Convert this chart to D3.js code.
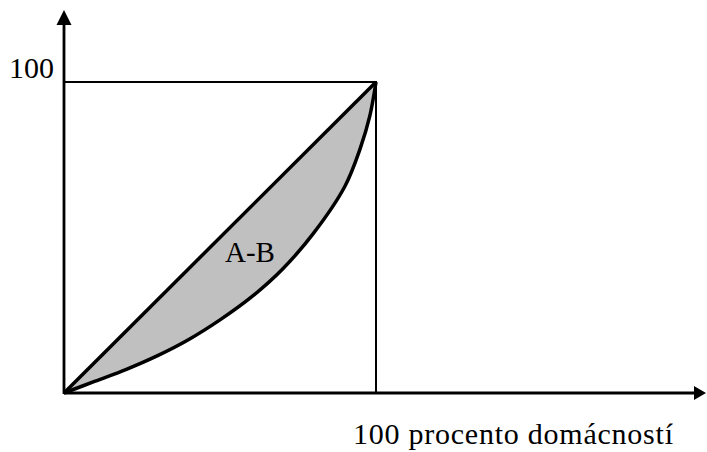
<!DOCTYPE html>
<html>
<head>
<meta charset="utf-8">
<script src="https://cdn.jsdelivr.net/npm/d3@7"></script>
<style>
  body { margin: 0; background: #fff; }
  text { font-family: "Liberation Serif", "Times New Roman", serif; fill: #000; }
</style>
</head>
<body>
<svg id="chart"></svg>
<script>
// cumulative share of households (%) and of income (%)
const households = [0, 10, 20, 30, 40, 50, 60, 70, 80, 90, 95, 98, 100];
const income = [0, 3.8, 7.6, 12, 17.2, 23.5, 30.8, 39.8, 51.4, 66.4, 78.8, 89, 100];
const yTicks = [100];
const xLabel = "100 procento domácností";
const areaLabel = "A-B";

const W = 707, H = 452;
const svg = d3.select("#chart").attr("width", W).attr("height", H);

const x = d3.scaleLinear().domain([0, 100]).range([64, 376]);
const y = d3.scaleLinear().domain([0, 100]).range([393, 82]);

const data = households.map((h, i) => ({ h: h, v: income[i] }));
const smooth = d3.curveCatmullRom.alpha(0.5);

// shaded area between equality line and Lorenz curve
const area = d3.area()
    .x(d => x(d.h))
    .y0(d => y(d.h))
    .y1(d => y(d.v))
    .curve(smooth);

svg.append("path")
    .datum(data)
    .attr("d", area)
    .attr("fill", "#c0c0c0");

// square box
svg.append("path")
    .attr("d", `M${x(0)},${y(100)}H${x(100)}V${y(0)}`)
    .attr("fill", "none")
    .attr("stroke", "#000")
    .attr("stroke-width", 2);

// equality line
svg.append("line")
    .attr("x1", x(0)).attr("y1", y(0))
    .attr("x2", x(100)).attr("y2", y(100))
    .attr("stroke", "#000")
    .attr("stroke-width", 3.5);

// Lorenz curve
const line = d3.line()
    .x(d => x(d.h))
    .y(d => y(d.v))
    .curve(smooth);

svg.append("path")
    .datum(data)
    .attr("d", line)
    .attr("fill", "none")
    .attr("stroke", "#000")
    .attr("stroke-width", 3.5);

// axes with arrows
const xEnd = 706, yEnd = 10;
svg.append("line")
    .attr("x1", x(0)).attr("y1", y(0))
    .attr("x2", xEnd - 10).attr("y2", y(0))
    .attr("stroke", "#000").attr("stroke-width", 2.8);
svg.append("line")
    .attr("x1", x(0)).attr("y1", y(0) + 1)
    .attr("x2", x(0)).attr("y2", yEnd + 10)
    .attr("stroke", "#000").attr("stroke-width", 2.8);

svg.append("path")
    .attr("d", `M${xEnd},${y(0)}L${xEnd - 12},${y(0) - 7}L${xEnd - 12},${y(0) + 7}Z`)
    .attr("fill", "#000");
svg.append("path")
    .attr("d", `M${x(0)},${yEnd}L${x(0) - 7.5},${yEnd + 15}L${x(0) + 7.5},${yEnd + 15}Z`)
    .attr("fill", "#000");

// y tick label
const yAxis = svg.append("g")
    .attr("transform", `translate(${x(0)},0)`)
    .call(d3.axisLeft(y).tickValues(yTicks).tickSize(0).tickPadding(10));
yAxis.select(".domain").remove();
yAxis.selectAll("text")
    .attr("font-family", null)
    .attr("dy", "-0.16em")
    .style("font-size", "30px");

svg.append("text")
    .attr("x", 353)
    .attr("y", 444)
    .attr("textLength", 320)
    .attr("lengthAdjust", "spacing")
    .style("font-size", "30px")
    .text(xLabel);

svg.append("text")
    .attr("x", 225)
    .attr("y", 262)
    .style("font-size", "29px")
    .text(areaLabel);
</script>
</body>
</html>
